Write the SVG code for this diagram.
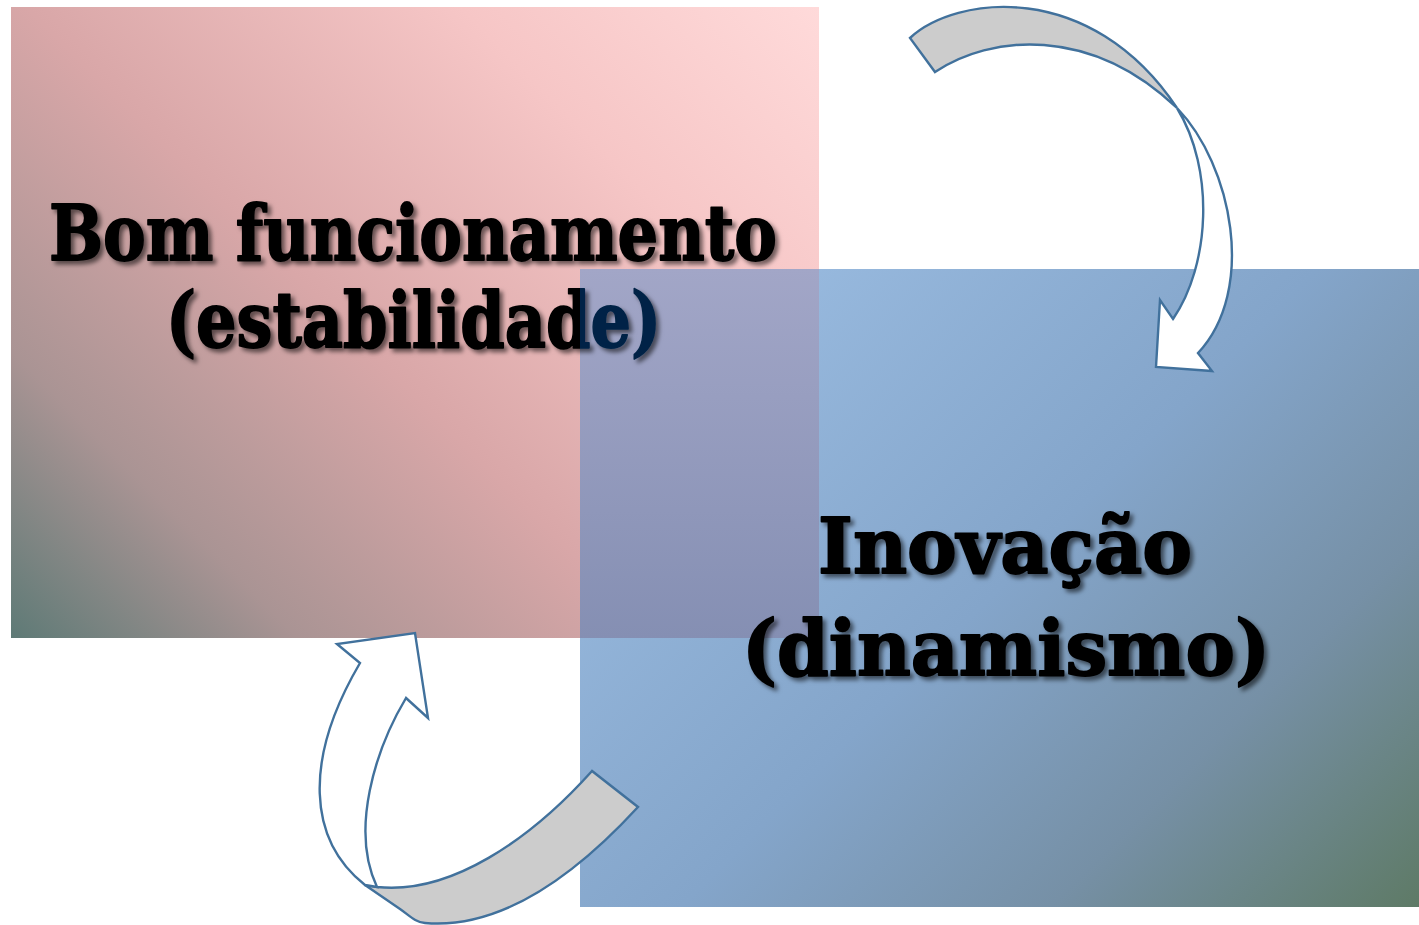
<svg xmlns="http://www.w3.org/2000/svg" width="1419" height="925" viewBox="0 0 1419 925">
  <defs>
    <linearGradient id="gPink" gradientUnits="userSpaceOnUse" x1="11" y1="638" x2="730.5" y2="-81.5">
      <stop offset="0" stop-color="#5E7A76"/>
      <stop offset="0.2" stop-color="#AA9494"/>
      <stop offset="0.45" stop-color="#D9A7A8"/>
      <stop offset="0.75" stop-color="#F6C6C6"/>
      <stop offset="1" stop-color="#FFDADA"/>
    </linearGradient>
    <linearGradient id="gBlue" gradientUnits="userSpaceOnUse" x1="580" y1="269" x2="1318.5" y2="1007.5">
      <stop offset="0" stop-color="#9FC1E6"/>
      <stop offset="0.5" stop-color="#84A5CA"/>
      <stop offset="0.75" stop-color="#7690A6"/>
      <stop offset="1" stop-color="#5E7A66"/>
    </linearGradient>
    <linearGradient id="gOverlap" x1="0" y1="0" x2="0" y2="1">
      <stop offset="0" stop-color="#A2A6C7"/>
      <stop offset="1" stop-color="#858FB3"/>
    </linearGradient>
    <clipPath id="clipOverlap">
      <rect x="580" y="269" width="239" height="369"/>
    </clipPath>
    <filter id="shadow" x="-10%" y="-30%" width="120%" height="160%">
      <feDropShadow dx="3.5" dy="3.5" stdDeviation="2" flood-color="#000" flood-opacity="0.55"/>
    </filter>
    <style>
      .lbl { font-family: "DejaVu Serif", "Liberation Serif", serif; font-weight: bold; font-size: 76px; text-anchor: middle; filter: url(#shadow); stroke-width: 1.8; stroke-linejoin: round; }
      .blk { fill: #000; stroke: #000; }
      .navy { fill: #022446; stroke: #022446; }
      .arrow { stroke: #41719C; stroke-width: 2.4; stroke-linejoin: miter; }
      .back { fill: #CCCCCC; }
      .front { fill: #FFFFFF; }
    </style>
  </defs>

  <rect width="1419" height="925" fill="#FFFFFF"/>

  <g id="node-stability">
    <rect x="11" y="7" width="808" height="631" fill="url(#gPink)"/>
    <text class="lbl blk" x="413" y="260" textLength="728" lengthAdjust="spacingAndGlyphs">Bom funcionamento</text>
    <text class="lbl blk" x="413.5" y="347" textLength="495" lengthAdjust="spacingAndGlyphs">(estabilidade)</text>
  </g>

  <g id="node-innovation">
    <rect x="580" y="269" width="839" height="638" fill="url(#gBlue)"/>
    <rect x="580" y="269" width="239" height="369" fill="url(#gOverlap)"/>
    <g clip-path="url(#clipOverlap)">
      <text class="lbl navy" x="413.5" y="347" textLength="495" lengthAdjust="spacingAndGlyphs">(estabilidade)</text>
    </g>
    <text class="lbl blk" x="1005" y="573" textLength="374" lengthAdjust="spacingAndGlyphs">Inovação</text>
    <text class="lbl blk" x="1006" y="675" textLength="528" lengthAdjust="spacingAndGlyphs">(dinamismo)</text>
  </g>

  <g id="connectors">
    <g id="arrow-top">
      <path class="arrow back" d="M910,38 C955,-4 1090,-22 1177,108 C1090,25 990,35 935,72 Z"/>
      <path class="arrow front" d="M1177,108 C1232,165 1257,290 1198,353 L1212,371 L1156,367 L1160,300 L1173,319 C1210,265 1215,170 1177,108 Z"/>
    </g>
    <g id="arrow-bottom">
      <path class="arrow back" d="M592,771 C530,840 450,895 377,887 L365,885 L400,909 C410,916 415,922 425,923 C505,930 580,870 638,807 Z"/>
      <path class="arrow front" d="M365,885 C308,840 303,760 360,663 L337,644 L415,633 L428,718 L406,698 C375,750 350,830 377,887 Z"/>
    </g>
  </g>
</svg>
